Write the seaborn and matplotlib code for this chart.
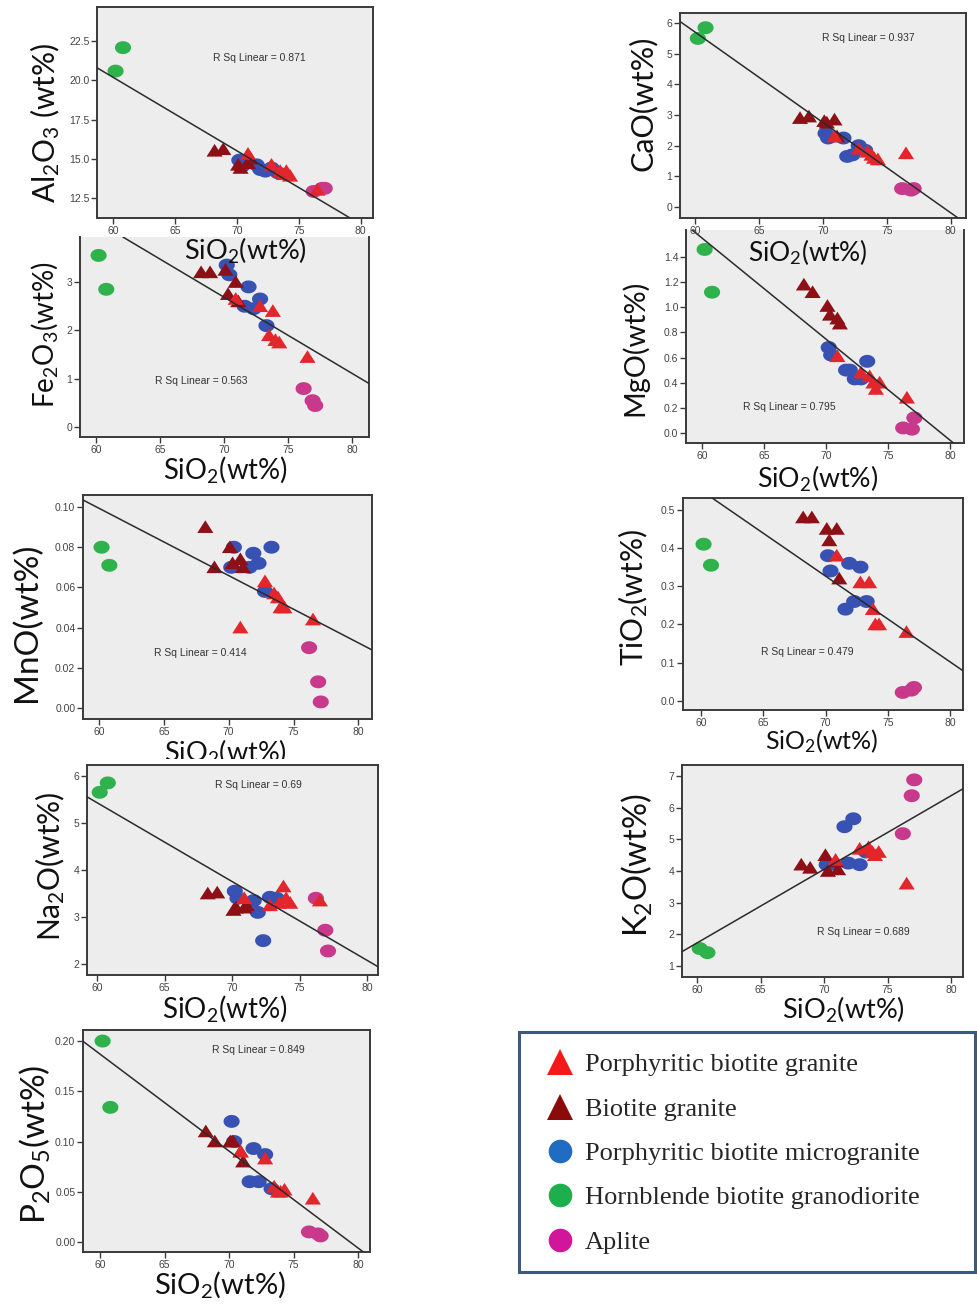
import numpy as np
import pandas as pd
import matplotlib
matplotlib.use("Agg")
import matplotlib.pyplot as plt
from matplotlib.path import Path
from matplotlib.lines import Line2D
from matplotlib.patches import Rectangle
from matplotlib.ticker import FormatStrFormatter
from matplotlib.transforms import Bbox, TransformedBbox
import seaborn as sns

# ---------------------------------------------------------------- data
ROCK_TYPES = [
    "Porphyritic biotite granite",
    "Biotite granite",
    "Porphyritic biotite microgranite",
    "Hornblende biotite granodiorite",
    "Aplite",
]

# one entry per analysed sample (drawing order: later rows on top)
rock = (["Porphyritic biotite microgranite"] * 7
        + ["Hornblende biotite granodiorite"] * 2
        + ["Aplite"] * 3
        + ["Biotite granite"] * 6
        + ["Porphyritic biotite granite"] * 7)

sio2 = [70.2, 70.4, 71.6, 71.9, 72.3, 72.8, 73.3,
        60.2, 60.8,
        76.2, 76.9, 77.1,
        68.2, 68.9, 70.1, 70.3, 70.9, 71.1,
        70.9, 72.8, 73.5, 73.8, 74.0, 74.3, 76.5]
al2o3 = [14.9, 14.5, 14.6, 14.3, 14.2, 14.4, 14.1,
         20.6, 22.1,
         12.9, 13.1, 13.1,
         15.5, 15.6, 14.6, 14.4, 14.7, 15.0,
         15.3, 14.6, 14.2, 14.0, 14.2, 13.9, 13.0]
cao = [2.4, 2.25, 2.25, 1.65, 1.7, 2.0, 1.85,
       5.5, 5.85,
       0.6, 0.55, 0.6,
       2.9, 2.95, 2.8, 2.75, 2.85, 2.3,
       2.3, 1.9, 1.8, 1.7, 1.6, 1.55, 1.75]
fe2o3 = [3.35, 3.15, 2.5, 2.9, 2.45, 2.65, 2.1,
         3.55, 2.85,
         0.8, 0.55, 0.45,
         3.2, 3.2, 3.25, 2.75, 3.0, 2.6,
         2.65, 2.5, 1.9, 2.4, 1.8, 1.75, 1.45]
mgo = [0.68, 0.62, 0.50, 0.50, 0.43, 0.43, 0.57,
       1.46, 1.12,
       0.04, 0.03, 0.12,
       1.18, 1.12, 1.01, 0.94, 0.91, 0.87,
       0.61, 0.48, 0.45, 0.40, 0.35, 0.40, 0.28]
mno = [0.070, 0.080, 0.070, 0.077, 0.072, 0.058, 0.080,
       0.080, 0.071,
       0.030, 0.013, 0.003,
       0.090, 0.070, 0.080, 0.072, 0.074, 0.070,
       0.040, 0.063, 0.057, 0.055, 0.050, 0.050, 0.044]
tio2 = [0.38, 0.34, 0.24, 0.36, 0.26, 0.35, 0.26,
        0.41, 0.355,
        0.022, 0.028, 0.035,
        0.48, 0.48, 0.45, 0.42, 0.45, 0.32,
        0.38, 0.31, 0.31, 0.24, 0.20, 0.20, 0.18]
na2o = [3.55, 3.4, 3.35, 3.1, 2.5, 3.42, 3.4,
        5.65, 5.85,
        3.4, 2.72, 2.28,
        3.5, 3.52, 3.15, 3.2, 3.2, 3.25,
        3.4, 3.25, 3.3, 3.65, 3.4, 3.3, 3.35]
k2o = [4.2, 4.2, 5.4, 4.25, 5.65, 4.2, 4.6,
       1.55, 1.42,
       5.18, 6.38, 6.88,
       4.2, 4.1, 4.5, 4.0, 4.3, 4.05,
       4.35, 4.7, 4.75, 4.6, 4.5, 4.6, 3.6]
p2o5 = [0.12, 0.10, 0.06, 0.093, 0.06, 0.087, 0.053,
        0.200, 0.134,
        0.010, 0.008, 0.006,
        0.11, 0.10, 0.10, 0.10, 0.09, 0.08,
        0.09, 0.083, 0.055, 0.050, 0.050, 0.052, 0.043]

oxides = ["Al2O3", "CaO", "Fe2O3", "MgO", "MnO", "TiO2", "Na2O", "K2O", "P2O5"]
r_squared = [0.871, 0.937, 0.563, 0.795, 0.414, 0.479, 0.69, 0.689, 0.849]
# linear fit evaluated at SiO2 = 60 and SiO2 = 80 wt%
fit_at_60 = [20.2, 5.70, 4.26, 1.55, 0.0994, 0.551, 5.43, 1.73, 0.187]
fit_at_80 = [10.8, -0.19, 1.11, -0.06, 0.0324, 0.102, 2.08, 6.38, -0.006]

ylabels = {
    "Al2O3": "Al$_2$O$_3$ (wt%)", "CaO": "CaO(wt%)", "Fe2O3": "Fe$_2$O$_3$(wt%)",
    "MgO": "MgO(wt%)", "MnO": "MnO(wt%)", "TiO2": "TiO$_2$(wt%)",
    "Na2O": "Na$_2$O(wt%)", "K2O": "K$_2$O(wt%)", "P2O5": "P$_2$O$_5$(wt%)",
}
xlabel = "SiO$_2$(wt%)"

df = pd.DataFrame({"Rock type": rock, "SiO2": sio2, "Al2O3": al2o3, "CaO": cao,
                   "Fe2O3": fe2o3, "MgO": mgo, "MnO": mno, "TiO2": tio2,
                   "Na2O": na2o, "K2O": k2o, "P2O5": p2o5})

# ---------------------------------------------------------------- style
sns.set_style("ticks")
plt.rcParams["font.family"] = ["Lato", "DejaVu Sans"]
plt.rcParams["mathtext.fontset"] = "custom"
plt.rcParams["mathtext.rm"] = "Lato"
plt.rcParams["mathtext.it"] = "Lato:italic"
plt.rcParams["mathtext.bf"] = "Lato:bold"

PALETTE = {
    "Porphyritic biotite granite": "#e2262b",
    "Biotite granite": "#8c1016",
    "Porphyritic biotite microgranite": "#3752b3",
    "Hornblende biotite granodiorite": "#2fb24c",
    "Aplite": "#c8398b",
}
LEGEND_COLORS = {
    "Porphyritic biotite granite": "#f21a1a",
    "Biotite granite": "#8b0b0b",
    "Porphyritic biotite microgranite": "#1f6cc2",
    "Hornblende biotite granodiorite": "#1caf4b",
    "Aplite": "#d0169b",
}

theta = np.linspace(0, 2 * np.pi, 48)
ellipse = Path(np.column_stack([np.cos(theta), 0.8 * np.sin(theta)]), closed=True)
triangle = Path([(-1.0, -0.72), (1.0, -0.72), (0.0, 0.85), (-1.0, -0.72)], closed=True)
MARKERS = {
    "Porphyritic biotite granite": triangle,
    "Biotite granite": triangle,
    "Porphyritic biotite microgranite": ellipse,
    "Hornblende biotite granodiorite": ellipse,
    "Aplite": ellipse,
}

W, H = 977, 1306
fig = plt.figure(figsize=(W / 100, H / 100), dpi=100)
fig.patch.set_facecolor("white")

# panel geometry in pixels: (left, top, right, bottom); label centres in pixels
layout = {
    "Al2O3": dict(box=(97, 7, 373, 218), xlim=(58.7, 81.0), ylim=(11.2, 24.7),
                  yticks=[12.5, 15, 17.5, 20, 22.5], fmt="%.1f", r2=(0.59, 0.76),
                  ylab=(45, 123), yfs=21.5, xlab=(245, 251), xfs=19.5, top=True, row=0),
    "CaO": dict(box=(680, 13, 966, 218), xlim=(58.8, 81.2), ylim=(-0.36, 6.33),
                yticks=[0, 1, 2, 3, 4, 5, 6], fmt="%d", r2=(0.657, 0.88),
                ylab=(643, 103), yfs=22, xlab=(808, 252), xfs=19, top=True, row=0),
    "Fe2O3": dict(box=(80, 237, 369, 437), xlim=(58.75, 81.3), ylim=(-0.2, 3.93),
                  yticks=[0, 1, 2, 3], fmt="%d", r2=(0.42, 0.28),
                  ylab=(45, 335), yfs=20, xlab=(225, 469), xfs=19.8, top=False, row=1),
    "MgO": dict(box=(686, 230, 964, 443), xlim=(58.7, 81.1), ylim=(-0.08, 1.615),
                yticks=[0, 0.2, 0.4, 0.6, 0.8, 1.0, 1.2, 1.4], fmt="%.1f", r2=(0.373, 0.17),
                ylab=(635, 348), yfs=20.8, xlab=(818, 479), xfs=19.3, top=False, row=1),
    "MnO": dict(box=(83, 495, 372, 719), xlim=(58.77, 81.05), ylim=(-0.0055, 0.106),
                yticks=[0, 0.02, 0.04, 0.06, 0.08, 0.10], fmt="%.2f", r2=(0.405, 0.295),
                ylab=(27, 622), yfs=24, xlab=(225, 753), xfs=19.5, top=True, row=2, clip=759),
    "TiO2": dict(box=(683, 498, 963, 710), xlim=(58.55, 81.04), ylim=(-0.024, 0.531),
                 yticks=[0, 0.1, 0.2, 0.3, 0.4, 0.5], fmt="%.1f", r2=(0.443, 0.274),
                 ylab=(633, 598), yfs=21.5, xlab=(822, 741), xfs=18, top=True, row=2),
    "Na2O": dict(box=(87, 765, 378, 975), xlim=(59.26, 80.8), ylim=(1.77, 6.23),
                 yticks=[2, 3, 4, 5, 6], fmt="%d", r2=(0.588, 0.905),
                 ylab=(50, 866), yfs=21.5, xlab=(225, 1008), xfs=20, top=True, row=3),
    "K2O": dict(box=(682, 765, 963, 977), xlim=(58.8, 80.94), ylim=(0.65, 7.35),
                yticks=[1, 2, 3, 4, 5, 6, 7], fmt="%d", r2=(0.644, 0.21),
                ylab=(637, 865), yfs=23.5, xlab=(843, 1010), xfs=19.5, top=True, row=3),
    "P2O5": dict(box=(83, 1030, 370, 1252), xlim=(58.68, 80.93), ylim=(-0.01, 0.211),
                 yticks=[0, 0.05, 0.10, 0.15, 0.20], fmt="%.2f", r2=(0.61, 0.91),
                 ylab=(35, 1144), yfs=24, xlab=(220, 1284), xfs=21, top=True, row=4),
}

SPINE = "#3a3a3a"
for i, ox in enumerate(oxides):
    L = layout[ox]
    x0, y0, x1, y1 = L["box"]
    ax = fig.add_axes([x0 / W, 1 - y1 / H, (x1 - x0) / W, (y1 - y0) / H])
    ax.set_zorder(10 - L["row"])
    ax.set_facecolor("#ededed")

    sns.scatterplot(data=df, x="SiO2", y=ox, hue="Rock type", style="Rock type",
                    hue_order=ROCK_TYPES, style_order=ROCK_TYPES,
                    palette=PALETTE, markers=MARKERS, s=135, linewidth=0,
                    legend=False, ax=ax, zorder=3)
    ax.axline((60, fit_at_60[i]), (80, fit_at_80[i]), color="#2b2b2b", lw=1.1, zorder=4)

    ax.set_xlim(*L["xlim"])
    ax.set_ylim(*L["ylim"])
    ax.set_xticks([60, 65, 70, 75, 80])
    ax.set_yticks(L["yticks"])
    ax.yaxis.set_major_formatter(FormatStrFormatter(L["fmt"]))
    ax.tick_params(direction="out", length=4, width=1.0, color=SPINE, pad=1.5,
                   labelsize=7.5, labelcolor="#444444")
    for lab in ax.get_xticklabels() + ax.get_yticklabels():
        lab.set_family("Liberation Sans")
    for name, sp in ax.spines.items():
        sp.set_color(SPINE)
        sp.set_linewidth(1.4)
    ax.spines["top"].set_visible(L["top"])

    ax.text(*L["r2"], f"R Sq Linear = {r_squared[i]:g}", transform=ax.transAxes,
            ha="center", va="center", fontsize=7.5, color="#333333",
            family="Liberation Sans", zorder=5)

    ax.set_ylabel(ylabels[ox], fontsize=L["yfs"], color="#111111")
    ax.set_xlabel(xlabel, fontsize=L["xfs"], color="#111111")
    ax.yaxis.label.set_va("center")
    ax.xaxis.label.set_va("center")
    lx, ly = L["ylab"]
    ax.yaxis.set_label_coords((lx - x0) / (x1 - x0), (y1 - ly) / (y1 - y0))
    bx, by = L["xlab"]
    ax.xaxis.set_label_coords((bx - x0) / (x1 - x0), (y1 - by) / (y1 - y0))
    if "clip" in L:
        lab = ax.xaxis.label
        lab.set_clip_on(True)
        lab.set_clip_box(TransformedBbox(Bbox([[0, 1 - L["clip"] / H], [1, 1]]),
                                         fig.transFigure))

# ---------------------------------------------------------------- legend
fig.add_artist(Rectangle((519 / W, 1 - 1272 / H), 456 / W, 240 / H,
                         transform=fig.transFigure, facecolor="white",
                         edgecolor="#3d5a7c", lw=2.2, zorder=0))
handles = []
for r in ROCK_TYPES:
    mk = "^" if "granite" in r and "micro" not in r else "o"
    handles.append(Line2D([], [], linestyle="none", marker=mk,
                          markersize=18.5 if mk == "^" else 17,
                          markerfacecolor=LEGEND_COLORS[r], markeredgewidth=0))
fig.legend(handles, ROCK_TYPES, loc="upper left",
           bbox_to_anchor=(547 / W, 1 - 1053 / H), frameon=False,
           prop=dict(family="Liberation Serif", size=19),
           handlelength=1.0, handletextpad=0.44, labelspacing=0.79,
           borderpad=0, borderaxespad=0)

fig.savefig("out.png", dpi=100, facecolor="white")
